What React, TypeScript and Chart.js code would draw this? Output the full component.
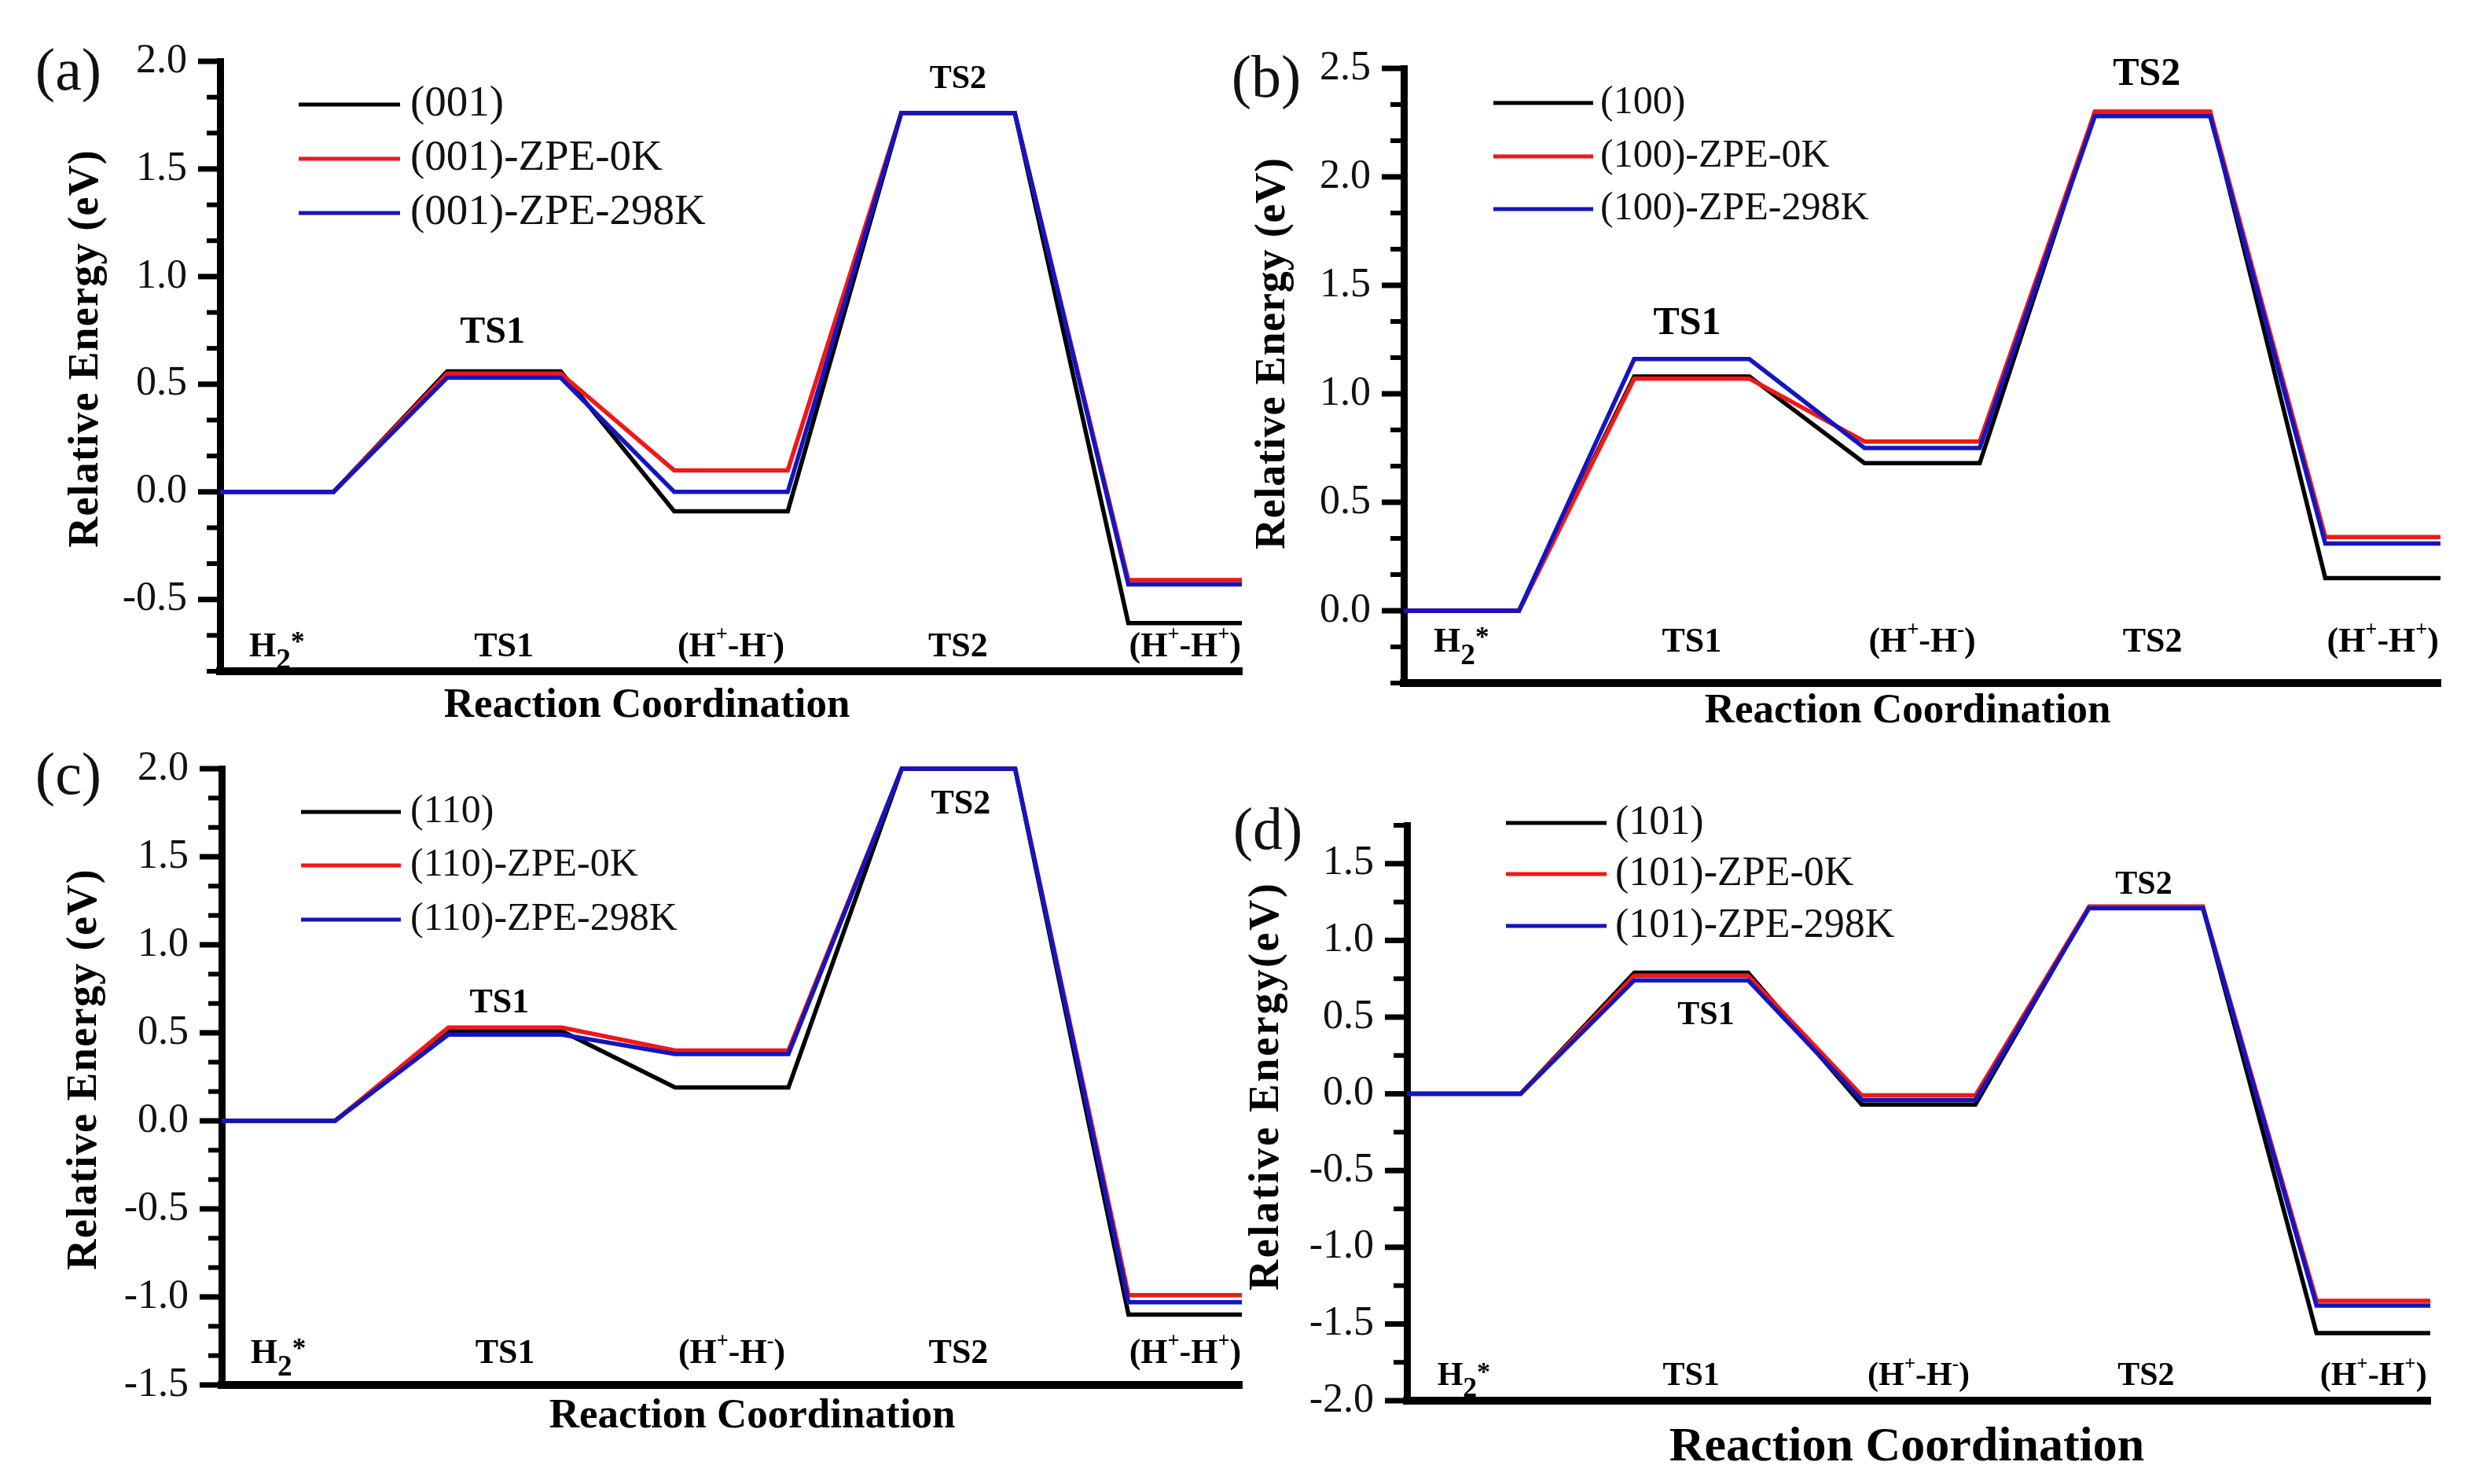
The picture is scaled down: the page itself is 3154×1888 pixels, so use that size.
import { useEffect, useRef } from "react";
import { Chart, registerables } from "chart.js";
import type { Plugin } from "chart.js";

Chart.register(...registerables);

const W = 3154;
const H = 1888;
const SERIF = "'Liberation Serif', 'Times New Roman', serif";

// reaction states along the x axis (^ = superscript, _ = subscript)
const stateLabels = ["H_2^*", "TS1", "(H^+-H^-)", "TS2", "(H^+-H^+)"];
const seriesColors = ["#000000", "#f01818", "#1515c0"];
const yTitleSpaced = "Relative Energy (eV)";
const yTitleTight = "Relative Energy(eV)";
const xTitle = "Reaction Coordination";

// (a) (001) surface
const namesA = ["(001)", "(001)-ZPE-0K", "(001)-ZPE-298K"];
const energyA001 = [0, 0.56, -0.09, 1.76, -0.61];
const energyA0K = [0, 0.55, 0.1, 1.76, -0.41];
const energyA298K = [0, 0.53, 0.0, 1.76, -0.43];

// (b) (100) surface
const namesB = ["(100)", "(100)-ZPE-0K", "(100)-ZPE-298K"];
const energyB100 = [0, 1.08, 0.68, 2.3, 0.15];
const energyB0K = [0, 1.07, 0.78, 2.3, 0.34];
const energyB298K = [0, 1.16, 0.75, 2.28, 0.31];

// (c) (110) surface
const namesC = ["(110)", "(110)-ZPE-0K", "(110)-ZPE-298K"];
const energyC110 = [0, 0.51, 0.19, 2.0, -1.1];
const energyC0K = [0, 0.53, 0.4, 2.0, -0.99];
const energyC298K = [0, 0.49, 0.38, 2.0, -1.03];

// (d) (101) surface
const namesD = ["(101)", "(101)-ZPE-0K", "(101)-ZPE-298K"];
const energyD101 = [0, 0.79, -0.07, 1.22, -1.56];
const energyD0K = [0, 0.77, -0.01, 1.22, -1.35];
const energyD298K = [0, 0.74, -0.04, 1.21, -1.38];

interface PanelDef {
  tag: string;
  names: string[];
  energies: number[][];
  yMin: number;
  yMax: number;
  minor: number;
  yTitle: string;
  frame: { left: number; top: number; right: number; bottom: number };
  tagPos: { x: number; y: number; size: number };
  yTitlePos: { x: number; y: number; spacing: number };
  xTitlePos: { x: number; y: number; size: number };
  legend: { x1: number; x2: number; tx: number; rows: number[]; size: number };
  stateLift: number;
  stateSize: number;
  peaks: { text: string; x: number; y: number; size: number }[];
}

const panels: PanelDef[] = [
  {
    tag: "(a)",
    names: namesA,
    energies: [energyA001, energyA0K, energyA298K],
    yMin: -5 / 6,
    yMax: 2,
    minor: 2,
    yTitle: yTitleSpaced,
    frame: { left: 280, top: 78, right: 1580, bottom: 854 },
    tagPos: { x: 87, y: 94, size: 76 },
    yTitlePos: { x: 110, y: 444, spacing: 1.2 },
    xTitlePos: { x: 823, y: 898, size: 53 },
    legend: { x1: 380, x2: 509, tx: 522, rows: [133, 202, 271], size: 55 },
    stateLift: 19,
    stateSize: 44,
    peaks: [
      { text: "TS1", x: 2.4, y: 0.737, size: 48 },
      { text: "TS2", x: 6.5, y: 1.916, size: 42 },
    ],
  },
  {
    tag: "(b)",
    names: namesB,
    energies: [energyB100, energyB0K, energyB298K],
    yMin: -1 / 3,
    yMax: 2.5,
    minor: 2,
    yTitle: yTitleSpaced,
    frame: { left: 1786, top: 87, right: 3105, bottom: 869 },
    tagPos: { x: 1611, y: 103, size: 76 },
    yTitlePos: { x: 1620, y: 450, spacing: 0.8 },
    xTitlePos: { x: 2427, y: 905, size: 53 },
    legend: { x1: 1900, x2: 2027, tx: 2036, rows: [131, 199, 266], size: 50 },
    stateLift: 40,
    stateSize: 44,
    peaks: [
      { text: "TS1", x: 2.46, y: 1.322, size: 50 },
      { text: "TS2", x: 6.45, y: 2.471, size: 50 },
    ],
  },
  {
    tag: "(c)",
    names: namesC,
    energies: [energyC110, energyC0K, energyC298K],
    yMin: -1.5,
    yMax: 2,
    minor: 2,
    yTitle: yTitleSpaced,
    frame: { left: 282, top: 978, right: 1580, bottom: 1762 },
    tagPos: { x: 87, y: 990, size: 76 },
    yTitlePos: { x: 108, y: 1361, spacing: 1.4 },
    xTitlePos: { x: 957, y: 1802, size: 53 },
    legend: { x1: 383, x2: 510, tx: 522, rows: [1033, 1101, 1170], size: 50 },
    stateLift: 28,
    stateSize: 44,
    peaks: [
      { text: "TS1", x: 2.45, y: 0.665, size: 44 },
      { text: "TS2", x: 6.52, y: 1.795, size: 44 },
    ],
  },
  {
    tag: "(d)",
    names: namesD,
    energies: [energyD101, energyD0K, energyD298K],
    yMin: -2,
    yMax: 1.75,
    minor: 1,
    yTitle: yTitleTight,
    frame: { left: 1790, top: 1050, right: 3092, bottom: 1782 },
    tagPos: { x: 1613, y: 1060, size: 76 },
    yTitlePos: { x: 1612, y: 1383, spacing: 2.7 },
    xTitlePos: { x: 2426, y: 1842, size: 62 },
    legend: { x1: 1916, x2: 2044, tx: 2055, rows: [1047, 1112, 1178], size: 52 },
    stateLift: 20,
    stateSize: 42,
    peaks: [
      { text: "TS1", x: 2.63, y: 0.51, size: 42 },
      { text: "TS2", x: 6.48, y: 1.361, size: 42 },
    ],
  },
];

type Part = { t: string; k: "n" | "sup" | "sub" };

function parseRich(s: string): Part[] {
  const parts: Part[] = [];
  for (let i = 0; i < s.length; i++) {
    const c = s[i];
    if ((c === "^" || c === "_") && i + 1 < s.length) {
      parts.push({ t: s[i + 1], k: c === "^" ? "sup" : "sub" });
      i++;
    } else {
      const last = parts[parts.length - 1];
      if (last && last.k === "n") last.t += c;
      else parts.push({ t: c, k: "n" });
    }
  }
  return parts;
}

function drawRich(ctx: CanvasRenderingContext2D, s: string, cx: number, base: number, size: number) {
  const parts = parseRich(s);
  const fontOf = (p: Part) => {
    let sz = size;
    if (p.k === "sub") sz = size * 0.85;
    if (p.k === "sup") sz = p.t === "*" ? size * 0.8 : size * 0.6;
    return `bold ${sz}px ${SERIF}`;
  };
  const shift = (p: Part) => {
    if (p.k === "sub") return size * 0.36;
    if (p.k === "sup") return p.t === "*" ? -size * 0.15 : -size * 0.45;
    return 0;
  };
  let total = 0;
  for (const p of parts) {
    ctx.font = fontOf(p);
    total += ctx.measureText(p.t).width;
  }
  let x = cx - total / 2;
  ctx.textAlign = "left";
  ctx.textBaseline = "alphabetic";
  for (const p of parts) {
    ctx.font = fontOf(p);
    ctx.fillText(p.t, x, base + shift(p));
    x += ctx.measureText(p.t).width;
  }
}

const decor: Plugin<"line"> = {
  id: "decor",
  afterDraw(chart, _args, opts: any) {
    const p: PanelDef = opts.panel;
    const ctx = chart.ctx;
    const xs = chart.scales.x;
    const ys = chart.scales.y;
    const area = chart.chartArea;
    ctx.save();

    // y axis major / minor ticks, outward
    const step = 0.5 / (p.minor + 1);
    ctx.strokeStyle = "#000";
    ctx.lineCap = "butt";
    for (let k = Math.ceil(p.yMin / step - 1e-6); k * step <= p.yMax + 1e-6; k++) {
      const v = k * step;
      const major = Math.abs(v / 0.5 - Math.round(v / 0.5)) < 1e-6;
      const py = ys.getPixelForValue(v);
      ctx.lineWidth = major ? 7 : 6;
      ctx.beginPath();
      ctx.moveTo(area.left, py);
      ctx.lineTo(area.left - (major ? 28 : 17), py);
      ctx.stroke();
    }

    ctx.fillStyle = "#000";

    // state names above the x axis
    stateLabels.forEach((lab, i) => {
      drawRich(ctx, lab, xs.getPixelForValue(2 * i + 0.5), area.bottom - p.stateLift, p.stateSize);
    });

    // transition state tags near the plateaus
    ctx.textAlign = "center";
    ctx.textBaseline = "middle";
    for (const pk of p.peaks) {
      ctx.font = `bold ${pk.size}px ${SERIF}`;
      ctx.fillText(pk.text, xs.getPixelForValue(pk.x), ys.getPixelForValue(pk.y));
    }

    // legend
    const lg = p.legend;
    chart.data.datasets.forEach((ds: any, i: number) => {
      const y = lg.rows[i];
      ctx.strokeStyle = ds.borderColor;
      ctx.lineWidth = 5;
      ctx.beginPath();
      ctx.moveTo(lg.x1, y);
      ctx.lineTo(lg.x2, y);
      ctx.stroke();
      ctx.font = `${lg.size}px ${SERIF}`;
      ctx.textAlign = "left";
      ctx.textBaseline = "middle";
      ctx.fillStyle = "#111";
      ctx.fillText(ds.label, lg.tx, y);
    });

    // panel tag
    ctx.fillStyle = "#111";
    ctx.textAlign = "center";
    ctx.textBaseline = "middle";
    ctx.font = `${p.tagPos.size}px ${SERIF}`;
    ctx.fillText(p.tag, p.tagPos.x, p.tagPos.y);

    // x title
    ctx.fillStyle = "#000";
    ctx.font = `bold ${p.xTitlePos.size}px ${SERIF}`;
    ctx.fillText(xTitle, p.xTitlePos.x, p.xTitlePos.y);

    // y title, rotated, spaced letters
    ctx.save();
    ctx.translate(p.yTitlePos.x, p.yTitlePos.y);
    ctx.rotate(-Math.PI / 2);
    ctx.font = `bold 54px ${SERIF}`;
    (ctx as any).letterSpacing = `${p.yTitlePos.spacing}px`;
    ctx.fillText(p.yTitle, p.yTitlePos.spacing / 2, 0);
    ctx.restore();

    ctx.restore();
  },
};

function EnergyPanel({ panel }: { panel: PanelDef }) {
  const canvasRef = useRef<HTMLCanvasElement>(null);

  useEffect(() => {
    if (!canvasRef.current) return;
    const f = panel.frame;
    const axisBox = 200;

    const datasets = panel.names.map((name, i) => ({
      label: name,
      data: panel.energies[i].flatMap((e, s) => [
        { x: 2 * s, y: e },
        { x: 2 * s + 1, y: e },
      ]),
      borderColor: seriesColors[i],
      backgroundColor: seriesColors[i],
      borderWidth: 5.5,
      pointRadius: 0,
      tension: 0,
      fill: false,
      clip: false as const,
      order: 3 - i,
    }));

    const majors: number[] = [];
    for (let v = Math.ceil(panel.yMin / 0.5) * 0.5; v <= panel.yMax + 1e-6; v += 0.5) {
      majors.push(Math.round(v * 10) / 10);
    }

    const chart = new Chart(canvasRef.current, {
      type: "line",
      data: { datasets },
      options: {
        animation: false,
        responsive: false,
        events: [],
        layout: {
          padding: {
            left: f.left - axisBox,
            top: f.top,
            right: W - f.right,
            bottom: H - f.bottom,
          },
        },
        plugins: {
          legend: { display: false },
          tooltip: { enabled: false },
          decor: { panel },
        } as any,
        scales: {
          x: {
            type: "linear",
            min: 0,
            max: 9,
            grid: { display: false, drawTicks: false },
            ticks: { display: false },
            border: { display: true, width: 10, color: "#000" },
            afterFit: (s: any) => {
              s.height = 0;
            },
          },
          y: {
            type: "linear",
            min: panel.yMin,
            max: panel.yMax,
            grid: { display: false, drawTicks: false },
            border: { display: true, width: 9, color: "#000" },
            ticks: {
              font: { family: SERIF, size: 52 },
              color: "#111",
              padding: 42,
              callback: (v: any) => Number(v).toFixed(1),
            },
            afterBuildTicks: (s: any) => {
              s.ticks = majors.map((v) => ({ value: v }));
            },
            afterFit: (s: any) => {
              s.width = axisBox;
            },
          },
        },
      },
      plugins: [decor],
    });

    return () => {
      chart.destroy();
    };
  }, [panel]);

  return (
    <canvas
      ref={canvasRef}
      width={W}
      height={H}
      style={{ position: "absolute", left: 0, top: 0, width: W, height: H }}
    ></canvas>
  );
}

export default function App() {
  return (
    <div
      style={{
        position: "absolute",
        left: 0,
        top: 0,
        width: W,
        height: H,
        background: "#ffffff",
        overflow: "hidden",
      }}
    >
      {panels.map((p) => (
        <EnergyPanel key={p.tag} panel={p} />
      ))}
    </div>
  );
}
